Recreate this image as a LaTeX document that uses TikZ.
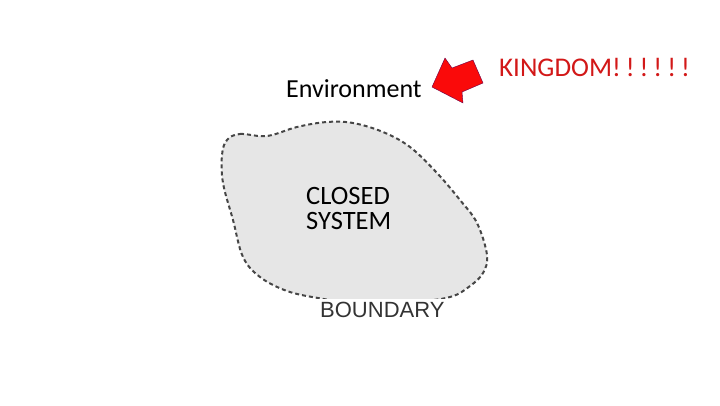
\documentclass[tikz,border=0pt]{standalone}
\usepackage{fontspec}
\setmainfont{Carlito}
\newfontfamily\arialfont{Liberation Sans}
\definecolor{blobgray}{RGB}{230,230,230}
\definecolor{dashgray}{RGB}{70,70,70}
\definecolor{kingred}{RGB}{210,24,24}
\definecolor{arrowred}{RGB}{250,10,10}
\newcommand{\bang}{!\kern5pt}
\begin{document}
\begin{tikzpicture}[x=1pt,y=-1pt,
    label text/.style={inner sep=0pt},
    boundary line/.style={draw=dashgray,line width=2pt,dash pattern=on 4pt off 3pt}]
        \useasboundingbox (0,0) rectangle (720,405);
        %% System
        \fill[blobgray] plot[smooth cycle,tension=0.6] coordinates {
            (227,140) (240,134) (267,136) (297,127) (327,122) (353,123)
            (383,132) (410,147) (437,173) (460,200) (477,223) (487,255)
            (483,273) (470,286) (450,297) (410,302) (350,302) (318,298)
            (287,291) (260,277) (243,257) (233,220) (223,183) (222,155)};
        \draw[boundary line] plot[smooth cycle,tension=0.6] coordinates {
            (227,140) (240,134) (267,136) (297,127) (327,122) (353,123)
            (383,132) (410,147) (437,173) (460,200) (477,223) (487,255)
            (483,273) (470,286) (450,297) (410,302) (350,302) (318,298)
            (287,291) (260,277) (243,257) (233,220) (223,183) (222,155)};
        %% Labels
        \node[label text,anchor=north west,align=left,
            font=\fontsize{26.5}{25}\selectfont]
            (closed) at (306,187) {CLOSED\\SYSTEM};
        \node[label text,anchor=base west,fill=white,inner sep=3pt,
            text=black!80,font=\arialfont\fontsize{22}{24}\selectfont]
            (bound) at (317,317) {BOUNDARY};
        \node[label text,anchor=base west,font=\fontsize{26}{28}\selectfont]
            (env) at (286,97) {Environment};
        \node[label text,anchor=base west,text=kingred,
            font=\fontsize{27}{30}\selectfont]
            (kingdom) at (499,76) {KINGDOM\bang\bang\bang\bang\bang!};
        %% Arrow
        \draw[fill=arrowred,draw=red!60!blue!70!black,line width=0.4pt]
            (432,87) -- (445,58) -- (452,68) -- (473,60) -- (483,83)
            -- (462,92) -- (463,103) -- cycle;
    \end{tikzpicture}
\end{document}
